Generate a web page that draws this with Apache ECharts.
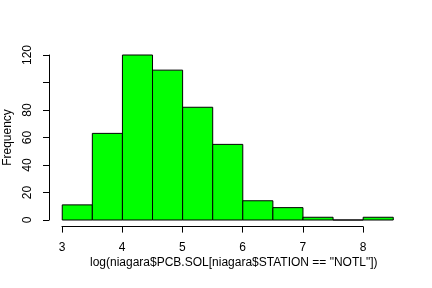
<!DOCTYPE html>
<html><head><meta charset="utf-8">
<script src="https://cdn.jsdelivr.net/npm/echarts@6/dist/echarts.min.js"></script>
<style>html,body{margin:0;padding:0;background:#fff}#c{width:432px;height:288px}</style>
</head><body><div id="c"></div>
<script>
const binStarts = [3, 3.5, 4, 4.5, 5, 5.5, 6, 6.5, 7, 7.5, 8];
const binEnds = [3.5, 4, 4.5, 5, 5.5, 6, 6.5, 7, 7.5, 8, 8.5];
const counts = [11, 63, 120, 109, 82, 55, 14, 9, 2, 0, 2];
const xTicks = [3, 4, 5, 6, 7, 8];
const yTicks = [0, 20, 40, 60, 80, 100, 120];
const yLabelsShown = [0, 20, 40, 60, 80, 120];
const xTitle = 'log(niagara$PCB.SOL[niagara$STATION == "NOTL"])';
const yTitle = 'Frequency';

const FONT = 'Liberation Sans, Arial, Helvetica, sans-serif';
const data = binStarts.map((s, i) => [s, binEnds[i], counts[i]]);
const xmin = binStarts[0], xmax = binEnds[binEnds.length - 1];
const xpad = (xmax - xmin) * 0.04;
const ymaxT = yTicks[yTicks.length - 1];
const ypad = ymaxT * 0.04;

const chart = echarts.init(document.getElementById('c'), null, {renderer: 'canvas'});
chart.setOption({
  animation: false,
  backgroundColor: '#fff',
  grid: [
    {left: 49, right: 25.5, top: 48.4, bottom: 61.4, outerBoundsMode: 'none'},
    {left: 62, right: 69, top: 48.4, bottom: 61.4, outerBoundsMode: 'none'},
    {left: 49, right: 25.5, top: 55, bottom: 68, outerBoundsMode: 'none'}
  ],
  xAxis: [
    {gridIndex: 0, type: 'value', min: xmin - xpad, max: xmax + xpad,
     axisLine: {show: false}, axisTick: {show: false}, axisLabel: {show: false}, splitLine: {show: false},
     name: xTitle, nameLocation: 'middle', nameGap: 30,
     nameTextStyle: {fontFamily: FONT, fontSize: 12, color: '#000', padding: [0, 0, 0, 12]}},
    {gridIndex: 1, type: 'value', min: xTicks[0], max: xTicks[xTicks.length - 1], interval: 1,
     axisLine: {show: true, onZero: false, lineStyle: {color: '#000', width: 1}},
     axisTick: {show: true, inside: false, length: 6, lineStyle: {color: '#000', width: 1}},
     axisLabel: {show: true, margin: 15, fontFamily: FONT, fontSize: 12, color: '#000'},
     splitLine: {show: false}},
    {gridIndex: 2, type: 'value', show: false, min: 0, max: 1}
  ],
  yAxis: [
    {gridIndex: 0, type: 'value', min: -ypad, max: ymaxT + ypad,
     axisLine: {show: false}, axisTick: {show: false}, axisLabel: {show: false}, splitLine: {show: false}},
    {gridIndex: 1, type: 'value', show: false, min: 0, max: 1},
    {gridIndex: 2, type: 'value', min: yTicks[0], max: ymaxT, interval: 20,
     axisLine: {show: true, onZero: false, lineStyle: {color: '#000', width: 1}},
     axisTick: {show: true, inside: false, length: 6, lineStyle: {color: '#000', width: 1}},
     axisLabel: {show: true, rotate: 90, margin: 15, fontFamily: FONT, fontSize: 12, color: '#000',
       formatter: v => yLabelsShown.indexOf(v) >= 0 ? String(v) : ''},
     splitLine: {show: false},
     name: yTitle, nameLocation: 'middle', nameGap: 29, nameRotate: 90,
     nameTextStyle: {fontFamily: FONT, fontSize: 12, color: '#000'}}
  ],
  series: [{
    type: 'custom', xAxisIndex: 0, yAxisIndex: 0, clip: false,
    data: data,
    renderItem: function (params, api) {
      const p0 = api.coord([api.value(0), 0]);
      const p1 = api.coord([api.value(1), api.value(2)]);
      return {
        type: 'rect',
        shape: {x: p0[0], y: p1[1], width: p1[0] - p0[0], height: p0[1] - p1[1]},
        style: {fill: '#00ff00', stroke: '#000', lineWidth: 1}
      };
    }
  }]
});
</script></body></html>
